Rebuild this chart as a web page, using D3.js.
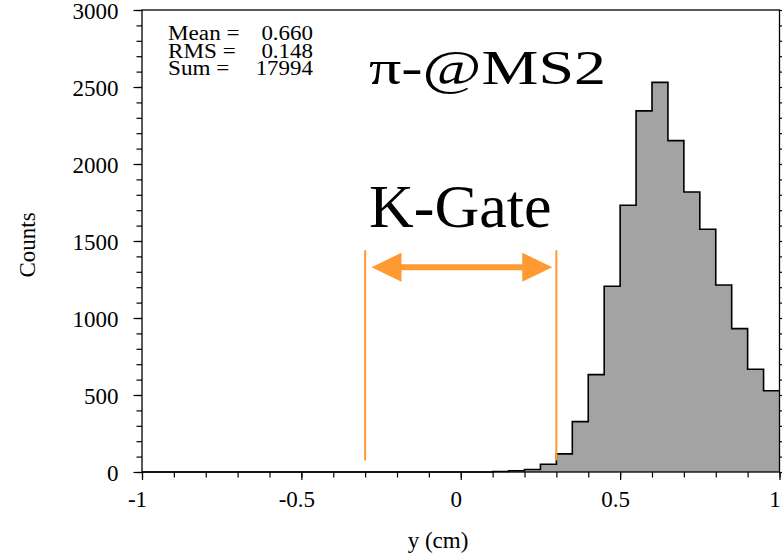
<!DOCTYPE html>
<html>
<head>
<meta charset="utf-8">
<script src="https://cdn.jsdelivr.net/npm/d3@7"></script>
<style>
  body { margin: 0; background: #fff; }
  svg { display: block; }
  text { font-family: "Liberation Serif", "Times New Roman", serif; fill: #000; }
</style>
</head>
<body>
<svg id="chart" width="782" height="557"></svg>
<script>
// histogram: 40 bins of 0.05 from -1 to 1
const binStart = -1;
const binWidth = 0.05;
const counts = [
  0, 0, 0, 0, 0, 0, 0, 0, 0, 0,
  0, 0, 0, 0, 0, 0, 0, 0, 0, 0,
  0, 0, 3, 8, 16, 50, 118, 327, 632, 1206,
  1732, 2345, 2530, 2152, 1818, 1576, 1214, 931, 667, 528
];
const xMajorTicks = [-1, -0.5, 0, 0.5, 1];
const yMajorTicks = [0, 500, 1000, 1500, 2000, 2500, 3000];
const statLabels = ["Mean =", "RMS =", "Sum ="];
const statValues = ["0.660", "0.148", "17994"];
const gateRange = [-0.3, 0.3];
const gateCountRange = [75, 1440];
const arrowRange = [-0.28, 0.287];
const arrowCount = 1330;

const width = 782, height = 557;
const margin = {top: 10, right: 2.5, bottom: 85, left: 142};
const serif = '"Liberation Serif", "Times New Roman", serif';
const svg = d3.select("#chart");

const x = d3.scaleLinear().domain([-1, 1]).range([margin.left, width - margin.right]);
const y = d3.scaleLinear().domain([0, 3000]).range([height - margin.bottom, margin.top]);

// histogram
const pts = counts.map((c, i) => [binStart + i * binWidth, c]);
pts.push([1, counts[counts.length - 1]]);

const area = d3.area()
  .x(d => x(d[0]))
  .y0(y(0))
  .y1(d => y(d[1]))
  .curve(d3.curveStepAfter);
const line = d3.line()
  .x(d => x(d[0]))
  .y(d => y(d[1]))
  .curve(d3.curveStepAfter);

svg.append("path")
  .attr("d", area(pts))
  .attr("fill", "#a3a3a3");
svg.append("path")
  .attr("d", line(pts))
  .attr("fill", "none")
  .attr("stroke", "#000")
  .attr("stroke-width", 1.6);

// frame
svg.append("rect")
  .attr("x", x(-1)).attr("y", y(3000))
  .attr("width", x(1) - x(-1)).attr("height", y(0) - y(3000))
  .attr("fill", "none")
  .attr("stroke", "#000")
  .attr("stroke-width", 1.3);

// axes: minor then major
function styleAxis(g) {
  g.attr("font-family", serif).attr("font-size", 23);
  g.select(".domain").remove();
  g.selectAll(".tick line").attr("stroke", "#000").attr("stroke-width", 1.2);
  g.selectAll(".tick text").attr("fill", "#000");
}

const yMinor = d3.range(0, 3001, 100);
svg.append("g")
  .attr("transform", `translate(${x(-1)},0)`)
  .call(d3.axisLeft(y).tickValues(yMinor).tickSize(5.5).tickFormat(""))
  .call(styleAxis);
svg.append("g")
  .attr("transform", `translate(${x(-1)},0)`)
  .call(d3.axisLeft(y).tickValues(yMajorTicks).tickSize(8.5).tickPadding(15).tickFormat(d3.format("d")))
  .call(styleAxis)
  .call(g => g.selectAll("text").attr("dy", "0.36em"));

// right side ticks
svg.append("g")
  .attr("transform", `translate(${x(1)},0)`)
  .call(d3.axisRight(y).tickValues(yMinor).tickSize(5).tickFormat(""))
  .call(styleAxis);

const xMinor = d3.range(-10, 11).map(d => d / 10);
svg.append("g")
  .attr("transform", `translate(0,${y(0)})`)
  .call(d3.axisBottom(x).tickValues(xMinor).tickSize(5.5).tickFormat(""))
  .call(styleAxis);
svg.append("g")
  .attr("transform", `translate(0,${y(0)})`)
  .call(d3.axisBottom(x).tickValues(xMajorTicks).tickSize(8).tickPadding(11).tickFormat(d => String(d)))
  .call(styleAxis)
  .call(g => g.selectAll("text").attr("dx", "-5"));

// axis titles
svg.append("text")
  .attr("x", 438).attr("y", 548)
  .attr("text-anchor", "middle")
  .attr("font-size", 23)
  .text("y (cm)");
svg.append("text")
  .attr("transform", "translate(35,245) rotate(-90)")
  .attr("text-anchor", "middle")
  .attr("font-size", 23)
  .text("Counts");

// stats box text (stretched horizontally like the original)
const stats = svg.append("g").attr("font-size", 20.5);
statLabels.forEach((lab, i) => {
  const by = 40 + i * 17.5;
  stats.append("text")
    .attr("transform", `translate(168,${by}) scale(1.13,1)`)
    .text(lab);
  stats.append("text")
    .attr("transform", `translate(313,${by}) scale(1.12,1)`)
    .attr("text-anchor", "end")
    .text(statValues[i]);
});

// title
svg.append("text")
  .attr("x", 369).attr("y", 84)
  .attr("font-size", 48)
  .attr("textLength", 237)
  .attr("lengthAdjust", "spacingAndGlyphs")
  .text("\u03c0-@MS2");

svg.append("text")
  .attr("x", 369).attr("y", 227)
  .attr("font-size", 62)
  .text("K-Gate");

// gate lines
const orange = "#ff9a33";
svg.append("g").selectAll("line")
  .data(gateRange)
  .join("line")
  .attr("x1", d => x(d)).attr("x2", d => x(d))
  .attr("y1", y(gateCountRange[0])).attr("y2", y(gateCountRange[1]))
  .attr("stroke", orange)
  .attr("stroke-width", 2);

// double arrow
const ax0 = x(arrowRange[0]), ax1 = x(arrowRange[1]), ay = y(arrowCount);
const headL = 30, headH = 14.5, shaftH = 3;
const arrowPath = d3.path();
arrowPath.moveTo(ax0, ay);
arrowPath.lineTo(ax0 + headL, ay - headH);
arrowPath.lineTo(ax0 + headL, ay - shaftH);
arrowPath.lineTo(ax1 - headL, ay - shaftH);
arrowPath.lineTo(ax1 - headL, ay - headH);
arrowPath.lineTo(ax1, ay);
arrowPath.lineTo(ax1 - headL, ay + headH);
arrowPath.lineTo(ax1 - headL, ay + shaftH);
arrowPath.lineTo(ax0 + headL, ay + shaftH);
arrowPath.lineTo(ax0 + headL, ay + headH);
arrowPath.closePath();
svg.append("path")
  .attr("d", arrowPath.toString())
  .attr("fill", orange);
</script>
</body>
</html>
